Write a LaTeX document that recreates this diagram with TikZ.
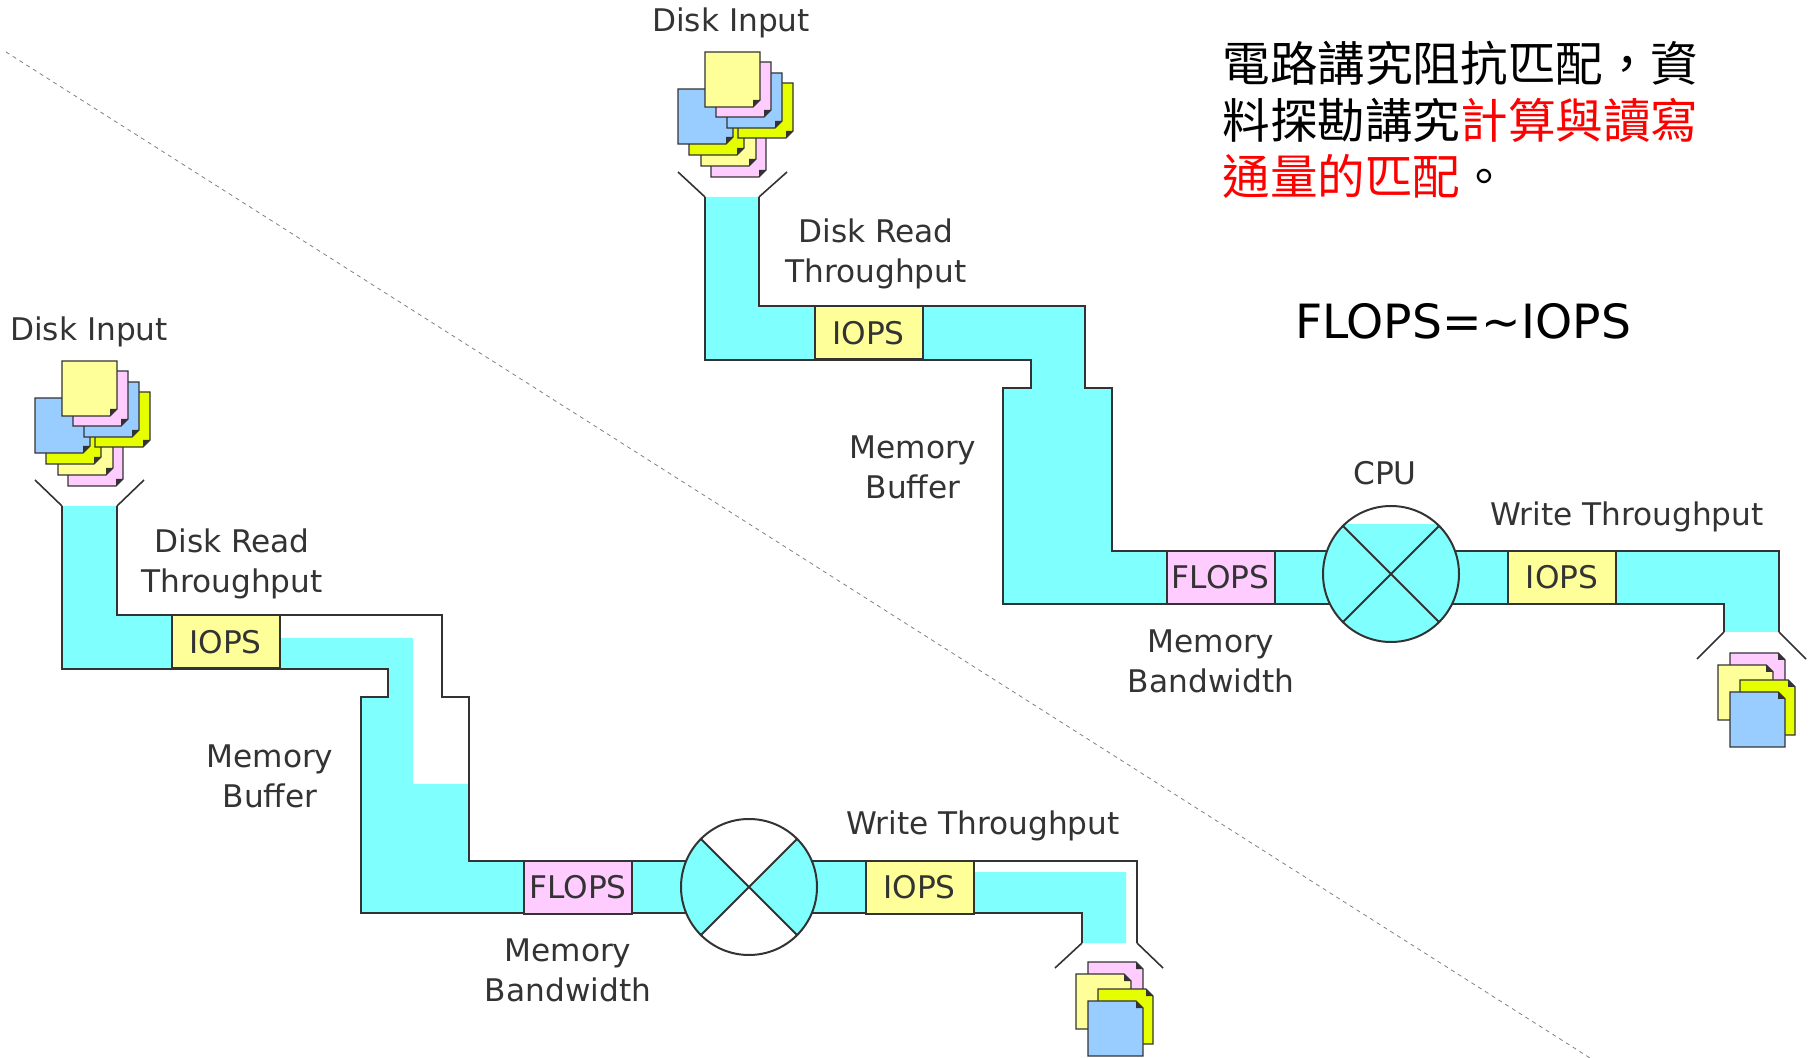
\documentclass[tikz,border=0pt]{standalone}
\usepackage{fontspec}
\setmainfont{DejaVu Sans}
\newfontfamily\cjk{Noto Sans CJK TC}
\usepackage{tikz}
\usetikzlibrary{positioning}
\definecolor{pipecyan}{HTML}{80FFFF}
\definecolor{iopsyellow}{HTML}{FFFF99}
\definecolor{flopspink}{HTML}{FFCCFF}
\definecolor{pageblue}{HTML}{99CCFF}
\definecolor{pagelime}{HTML}{E6FF00}
\definecolor{linegray}{HTML}{333333}
\definecolor{textgray}{HTML}{333333}

\begin{document}
\begin{tikzpicture}[x=0.5pt,y=-0.5pt,
  wall/.style={draw=linegray,line width=1pt},
  gauge/.style={draw=linegray,line width=1pt,minimum width=54pt,minimum height=26.5pt,
    inner sep=0pt,font=\fontsize{15.6}{20}\selectfont,text=textgray},
  iops/.style={gauge,fill=iopsyellow},
  flops/.style={gauge,fill=flopspink},
  tag/.style={font=\fontsize{15.6}{20}\selectfont,text=textgray,align=center,inner sep=0pt},
  pics/inpage/.style={code={
    \filldraw[fill=#1,draw=linegray,line width=0.7pt] (0,0) -- (55,0) -- (55,48) -- (48,55) -- (0,55) -- cycle;
    \fill[linegray] (55,48) -- (48,55) -- (48,48) -- cycle;}},
  pics/outpage/.style={code={
    \filldraw[fill=#1,draw=linegray,line width=0.7pt] (0,0) -- (48,0) -- (55,7) -- (55,55) -- (0,55) -- cycle;
    \fill[linegray] (48,0) -- (55,7) -- (48,7) -- cycle;}}]

  \useasboundingbox (0,0) rectangle (1811,1058);

  % divider
  \draw[gray,line width=0.4pt,dash pattern=on 2pt off 2pt] (6,52) -- (1590,1058);

  % ---- upper pipe: full ----
  \fill[pipecyan] (705,197) -- (759,197) -- (759,306) -- (1085,306) -- (1085,388) -- (1112,388)
    -- (1112,551) -- (1779,551) -- (1779,632) -- (1724,632) -- (1724,604) -- (1003,604)
    -- (1003,388) -- (1031,388) -- (1031,360) -- (705,360) -- cycle;
  \draw[wall] (759,197) -- (759,306) -- (1085,306) -- (1085,388) -- (1112,388) -- (1112,551)
    -- (1779,551) -- (1779,632);
  \draw[wall] (705,197) -- (705,360) -- (1031,360) -- (1031,388) -- (1003,388) -- (1003,604)
    -- (1724,604) -- (1724,632);
  \draw[wall,line width=0.8pt] (705,197) -- (678,172) (759,197) -- (787,172);
  \draw[wall,line width=0.8pt] (1724,632) -- (1697,659) (1779,632) -- (1806,659);

  \coordinate (cpuA) at (1391,574);
  \fill[white] (cpuA) circle[radius=68];
  \begin{scope}
    \clip (cpuA) circle[radius=68];
    \fill[pipecyan] (1320,524) rectangle (1462,645);
  \end{scope}
  \draw[wall] (cpuA) circle[radius=68];
  \draw[wall] (1343,526) -- (1439,622) (1343,622) -- (1439,526);

  \node[iops]  (iopsA)  at (868.5,333)  {IOPS};
  \node[flops] (flopsA) at (1220.5,577.5) {FLOPS};
  \node[iops]  (writeA) at (1562,577.5) {IOPS};

  % ---- lower pipe: half empty ----
  \fill[pipecyan] (62,506) -- (117,506) -- (117,615) -- (280,615) -- (280,638) -- (413,638)
    -- (413,784) -- (469,784) -- (469,861) -- (973,861) -- (973,872) -- (1126,872)
    -- (1126,943) -- (1082,943) -- (1082,913) -- (361,913) -- (361,697) -- (388,697)
    -- (388,669) -- (62,669) -- cycle;
  \draw[wall] (117,506) -- (117,615) -- (442,615) -- (442,697) -- (469,697) -- (469,861)
    -- (1137,861) -- (1137,943);
  \draw[wall] (62,506) -- (62,669) -- (388,669) -- (388,697) -- (361,697) -- (361,913)
    -- (1082,913) -- (1082,943);
  \draw[wall,line width=0.8pt] (62,506) -- (35,480) (117,506) -- (144,480);
  \draw[wall,line width=0.8pt] (1082,943) -- (1055,968) (1137,943) -- (1163,968);

  \coordinate (cpuB) at (749,887);
  \fill[white] (cpuB) circle[radius=68];
  \begin{scope}
    \clip (cpuB) circle[radius=68];
    \fill[pipecyan] (749,887) -- (600,738) -- (600,1036) -- cycle;
    \fill[pipecyan] (749,887) -- (898,738) -- (898,1036) -- cycle;
  \end{scope}
  \draw[wall] (cpuB) circle[radius=68];
  \draw[wall] (701,839) -- (797,935) (701,935) -- (797,839);

  \node[iops]  (iopsB)  at (225.5,642) {IOPS};
  \node[flops] (flopsB) at (578,887)   {FLOPS};
  \node[iops]  (writeB) at (919.5,887) {IOPS};

  % ---- disk pages ----
  \foreach \dx/\dy in {0/0,-643/309} {
    \begin{scope}[shift={(\dx,\dy)}]
      \pic at (711,122) {inpage=flopspink};
      \pic at (701,111) {inpage=iopsyellow};
      \pic at (689,100) {inpage=pagelime};
      \pic at (678,89)  {inpage=pageblue};
      \pic at (738,83)  {inpage=pagelime};
      \pic at (727,73)  {inpage=pageblue};
      \pic at (716,62)  {inpage=flopspink};
      \pic at (705,52)  {inpage=iopsyellow};
    \end{scope}
  }
  \foreach \dx/\dy in {0/0,-642/309} {
    \begin{scope}[shift={(\dx,\dy)}]
      \pic at (1730,653) {outpage=flopspink};
      \pic at (1718,665) {outpage=iopsyellow};
      \pic at (1740,680) {outpage=pagelime};
      \pic at (1730,692) {outpage=pageblue};
    \end{scope}
  }

  % ---- labels ----
  \node[tag] (inA)    at (731,23)   {Disk Input};
  \node[tag] (readA)  at (876,254)  {Disk Read\\Throughput};
  \node[tag] (bufA)   at (913,467)  {Memory\\Buffer};
  \node[tag] (bandA)  at (1211,661) {Memory\\Bandwidth};
  \node[tag] (cpuTag) at (1385,473) {CPU};
  \node[tag] (wtA)    at (1627,517) {Write Throughput};

  \node[tag] (inB)    at (89,332)   {Disk Input};
  \node[tag] (readB)  at (232,564)  {Disk Read\\Throughput};
  \node[tag] (bufB)   at (270,776)  {Memory\\Buffer};
  \node[tag] (bandB)  at (568,970)  {Memory\\Bandwidth};
  \node[tag] (wtB)    at (983,826)  {Write Throughput};

  \node[anchor=west,align=left,inner sep=0pt,font=\cjk\fontsize{23.8}{28.3}\selectfont]
    (motto) at (1222,120) {電路講究阻抗匹配，資\\料探勘講究\textcolor{red}{計算與讀寫}\\\textcolor{red}{通量的匹配}。};
  \node[font=\fontsize{23.6}{28}\selectfont,inner sep=0pt] (rule) at (1463,321)
    {FLOPS=\textasciitilde IOPS};
\end{tikzpicture}
\end{document}
